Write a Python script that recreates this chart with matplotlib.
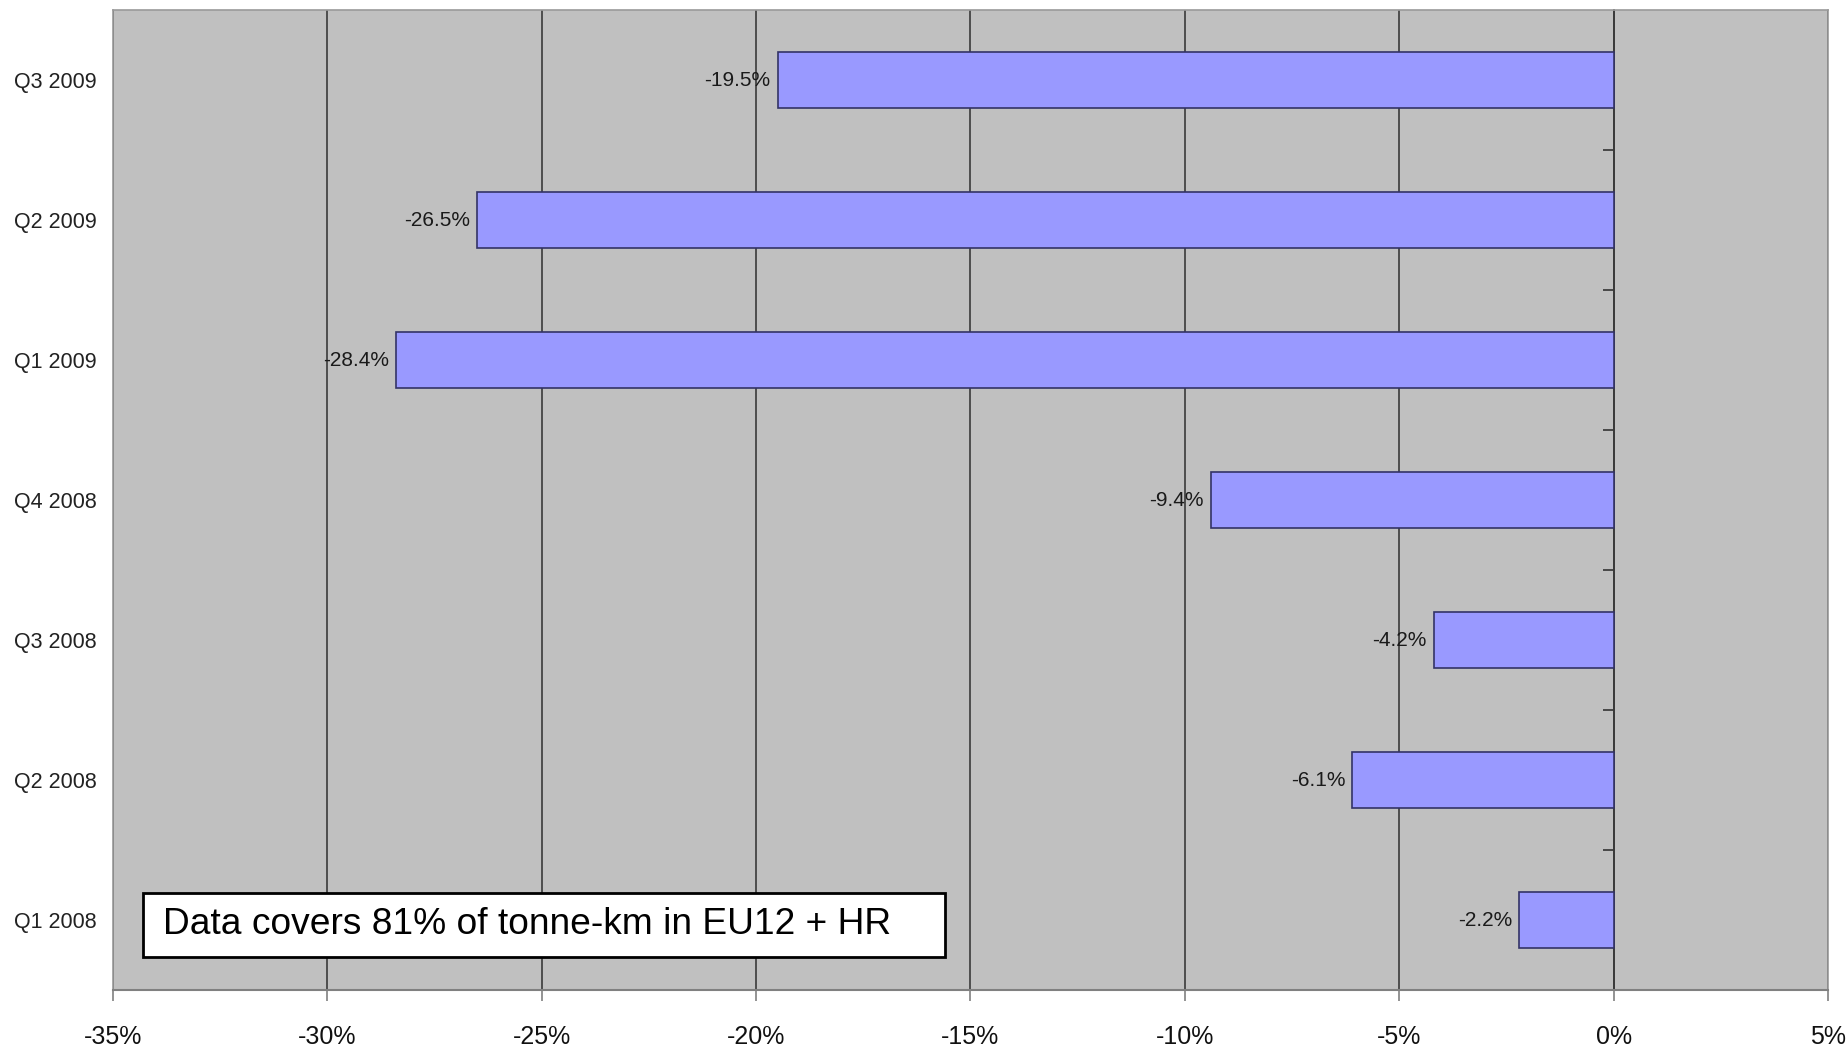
import matplotlib
matplotlib.use("Agg")
import matplotlib.pyplot as plt
from matplotlib.ticker import FuncFormatter, MultipleLocator, FixedLocator
from matplotlib.patches import Rectangle

categories = ["Q1 2008", "Q2 2008", "Q3 2008", "Q4 2008", "Q1 2009", "Q2 2009", "Q3 2009"]
values = [-2.2, -6.1, -4.2, -9.4, -28.4, -26.5, -19.5]
note = "Data covers 81% of tonne-km in EU12 + HR"

plt.rcParams['font.family'] = ['Liberation Sans', 'DejaVu Sans']

fig = plt.figure(figsize=(18.49, 10.46), dpi=100)
fig.patch.set_facecolor('white')
ax = fig.add_axes([113/1849, 1-990/1046, (1828-113)/1849, (990-10)/1046])
ax.set_facecolor('#C0C0C0')

ypos = list(range(len(categories)))
bars = ax.barh(ypos, values, height=0.4, color='#9999FF', edgecolor='#333366', linewidth=1.2, zorder=3)

for y, v in zip(ypos, values):
    ax.annotate(f"{v:.1f}%", xy=(v, y), xytext=(-5, 0), textcoords='offset points',
                ha='right', va='center', fontsize=15, color='#1a1a1a', zorder=4)

ax.set_xlim(-35, 5)
ax.set_ylim(-0.5, len(categories) - 0.5)
ax.xaxis.set_major_locator(MultipleLocator(5))
ax.xaxis.set_major_formatter(FuncFormatter(lambda v, p: f"{v:.0f}%"))
ax.tick_params(axis='x', labelsize=18, length=8, width=1.2, color='#808080', pad=17, labelcolor='#111111')

ax.set_yticks(ypos)
ax.set_yticklabels(categories)
ax.tick_params(axis='y', length=0, pad=12, labelsize=15.5, labelcolor='#222222')

ax.grid(axis='x', color='#3a3a3a', linewidth=1.2)
ax.grid(axis='y', visible=False)
ax.set_axisbelow(True)

for side in ['top', 'right', 'left']:
    ax.spines[side].set_color('#9a9a9a')
    ax.spines[side].set_linewidth(1.2)
ax.spines['bottom'].set_color('#808080')
ax.spines['bottom'].set_linewidth(1.5)

# value axis crossing at 0 with category-boundary ticks
x0_frac = (0 - (-35)) / (5 - (-35))
sec = ax.secondary_yaxis(x0_frac)
sec.yaxis.set_major_locator(FixedLocator([y + 0.5 for y in ypos[:-1]]))
sec.set_yticklabels([])
sec.tick_params(axis='y', length=8, width=1.2, color='#333333', direction='in')
for s in sec.spines.values():
    s.set_color('#333333')
    s.set_linewidth(1.3)
    s.set_zorder(5)

# note box
ax.add_patch(Rectangle((30/1715, 33/980), (945-143)/1715, 64/980, transform=ax.transAxes,
                       facecolor='white', edgecolor='black', linewidth=2, zorder=6))
ax.text(50/1715, 65/980, note, transform=ax.transAxes, ha='left', va='center',
        fontsize=26.7, color='black', zorder=7)

fig.savefig("out.png", dpi=100, facecolor='white')
